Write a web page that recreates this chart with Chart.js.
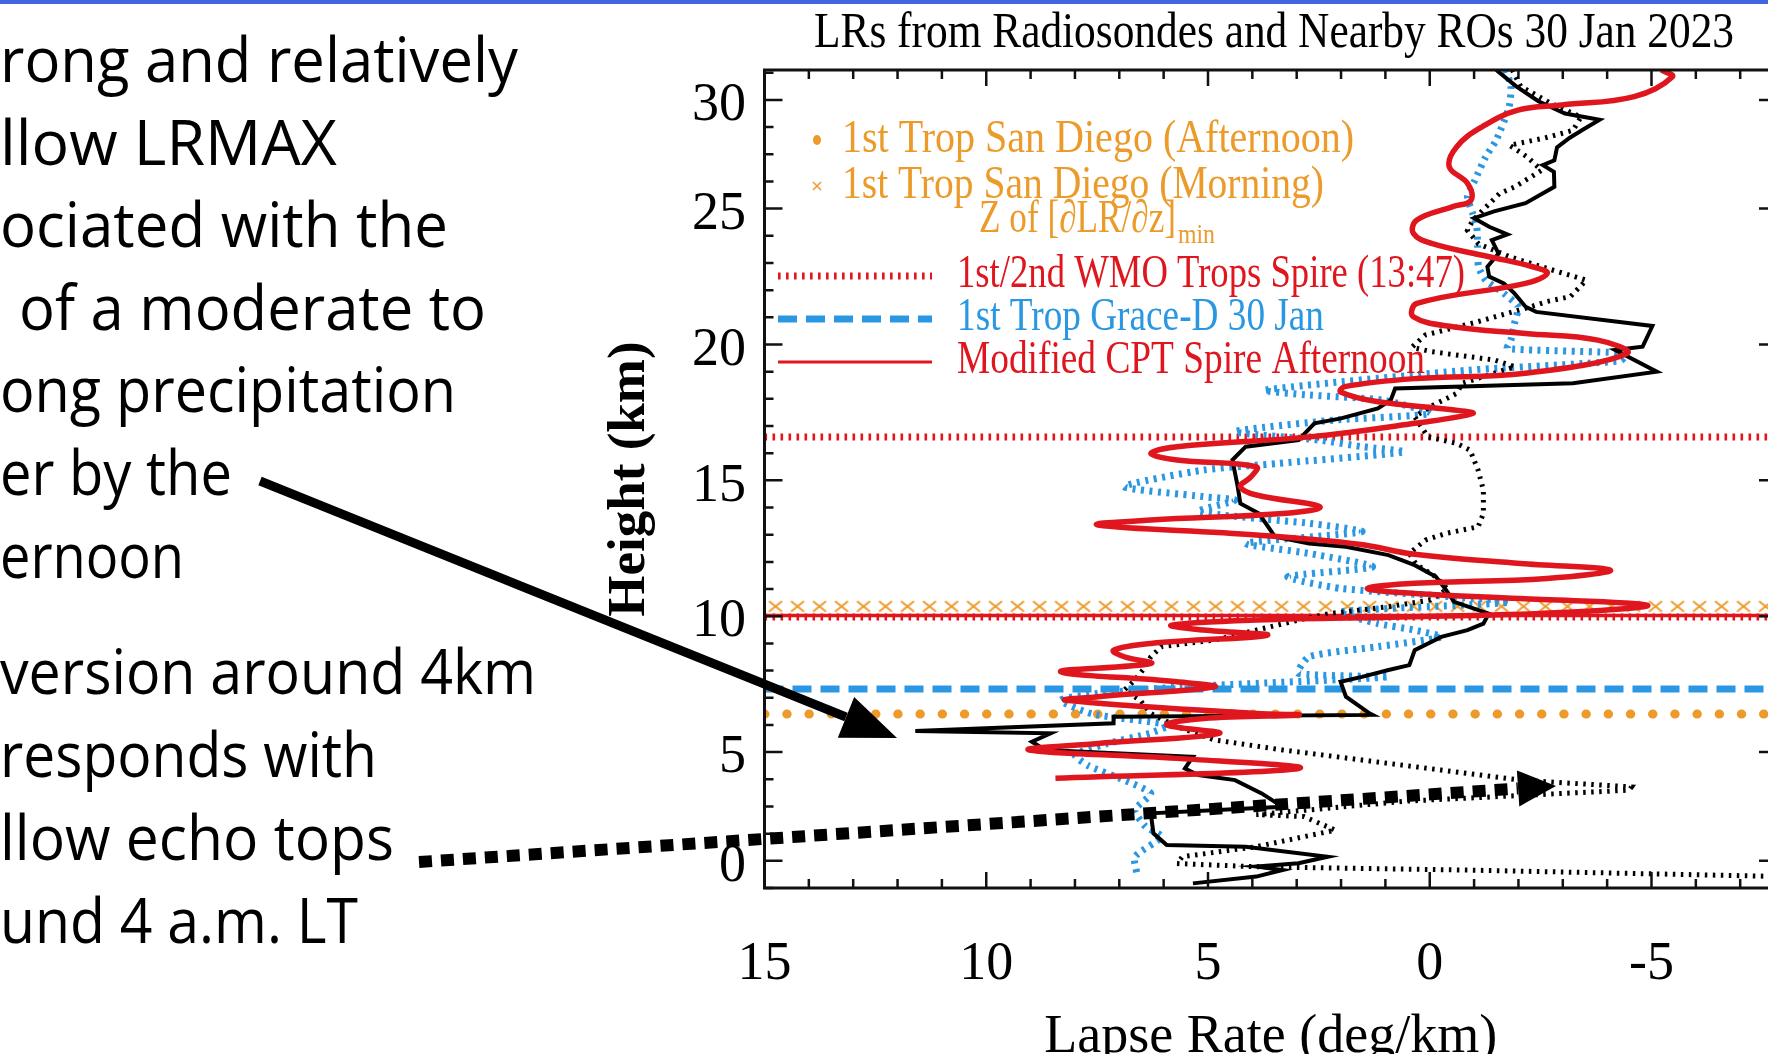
<!DOCTYPE html>
<html>
<head>
<meta charset="utf-8">
<script src="https://cdn.jsdelivr.net/npm/chart.js@4.4.0/dist/chart.umd.min.js"></script>
<style>
html, body { margin: 0; padding: 0; background: #fff; overflow: hidden; width: 1768px; height: 1054px; }
#topbar { position: absolute; left: 0; top: 0; width: 1768px; height: 4px; background: #3f66e0; z-index: 3; }
#lrChart { position: absolute; left: 0; top: 0; }
#notes { position: absolute; left: 0; top: 0; z-index: 2; }
</style>
</head>
<body>
<div id="topbar"></div>
<canvas id="lrChart" width="1800" height="1078"></canvas>
<svg id="notes" width="1768" height="1054" font-family="'Open Sans', 'Liberation Sans', sans-serif" font-size="63" fill="#000">
  <text x="0" y="82" textLength="518" lengthAdjust="spacingAndGlyphs">rong and relatively</text>
  <text x="0" y="165" textLength="337" lengthAdjust="spacingAndGlyphs">llow LRMAX</text>
  <text x="0" y="247" textLength="448" lengthAdjust="spacingAndGlyphs">ociated with the</text>
  <text x="19" y="330" textLength="467" lengthAdjust="spacingAndGlyphs">of a moderate to</text>
  <text x="0" y="412" textLength="456" lengthAdjust="spacingAndGlyphs">ong precipitation</text>
  <text x="0" y="495" textLength="232" lengthAdjust="spacingAndGlyphs">er by the</text>
  <text x="0" y="578" textLength="184" lengthAdjust="spacingAndGlyphs">ernoon</text>
  <text x="0" y="694" textLength="536" lengthAdjust="spacingAndGlyphs">version around 4km</text>
  <text x="0" y="777" textLength="377" lengthAdjust="spacingAndGlyphs">responds with</text>
  <text x="0" y="860" textLength="394" lengthAdjust="spacingAndGlyphs">llow echo tops</text>
  <text x="0" y="943" textLength="358" lengthAdjust="spacingAndGlyphs">und 4 a.m. LT</text>
  <!-- annotation arrows -->
  <line x1="260" y1="481" x2="846" y2="717" stroke="#000" stroke-width="9"/>
  <polygon points="897,738 837.8,737.8 854.2,697" fill="#000"/>
  <line x1="419" y1="862" x2="1518" y2="788.5" stroke="#000" stroke-width="12" stroke-dasharray="13 9"/>
  <polygon points="1556,786 1519.3,806.5 1516.9,770.5" fill="#000"/>
</svg>
<script>
// axis ranges (lapse rate axis runs backwards, 15 on the left)
const lrMin = -7.83, lrMax = 15;
const zMin = 0, zMax = 30.1;
const yLabelAt = [1, 5, 10, 15, 20, 25, 29];
const yLabelText = ['0', '5', '10', '15', '20', '25', '30'];
const chartTitle = 'LRs from Radiosondes and Nearby ROs 30 Jan 2023';

// radiosonde, afternoon (black solid)
const sondePmLR = [-1.5, -1.95, -2.45, -3.05, -3.83, -3.45, -3.15, -2.87, -2.81, -2.55, -2.8, -2.81, -2.16, -1.45, -1.0, -1.34, -1.75, -1.4, -1.55, -1.3, -1.34, -1.67, -1.91, -2.16, -2.4, -5.02, -4.8, -4.18, -5.12, -3.23, 0.78, 0.88, 1.17, 2.0, 2.6, 2.96, 4.15, 4.45, 4.33, 4.27, 3.85, 3.49, 2.72, 1.89, 0.93, 0.34, -0.14, -0.37, -0.55, -1.33, -1.21, -0.85, -0.26, 0.34, 0.46, 0.93, 1.53, 2.01, 1.89, 1.35, 1.29, 7.13, 7.13, 11.6, 8.55, 8.97, 8.67, 5.34, 5.52, 5.22, 4.39, 3.79, 3.32, 6.29, 6.23, 5.93, 4.15, 2.3, 2.96, 3.91, 3.32, 3.91, 5.34];
const sondePmZ = [30.1, 29.5, 28.95, 28.5, 28.27, 27.9, 27.6, 27.25, 26.78, 26.6, 26.35, 25.8, 25.2, 24.9, 24.65, 24.33, 24.05, 23.84, 23.35, 22.86, 22.5, 22.25, 21.88, 21.39, 21.2, 20.68, 19.92, 19.8, 19.0, 18.57, 18.38, 17.95, 17.65, 17.28, 17.1, 16.48, 16.24, 15.75, 14.77, 14.15, 13.78, 12.93, 12.68, 12.56, 12.25, 11.88, 11.45, 10.96, 10.53, 10.1, 9.73, 9.49, 9.24, 8.75, 8.2, 8.02, 7.77, 7.59, 7.04, 6.42, 6.37, 6.3, 6.06, 5.78, 5.69, 5.38, 5.08, 4.83, 4.4, 4.16, 3.97, 3.48, 2.99, 2.75, 2.01, 1.58, 1.52, 1.15, 0.91, 0.79, 0.66, 0.42, 0.17];

// radiosonde, morning (black dotted)
const sondeAmLR = [-1.86, -2.05, -2.7, -3.41, -3.23, -2.6, -1.8, -2.2, -2.52, -1.92, -1.57, -0.97, -0.85, -1.1, -1.8, -2.52, -3.53, -3.17, -2.64, -2.28, -1.0, 0.1, 0.4, -0.02, -1.45, -1.92, -0.73, -0.61, -0.08, 0.34, 0.04, -0.61, -0.91, -1.09, -1.21, -1.21, -1.09, -0.37, 0.1, 0.46, 0.3, -0.14, -0.4, -0.02, 0.93, 2.25, 2.96, 3.91, 4.86, 6.05, 6.29, 6.41, 6.65, 6.89, 6.53, 6.29, 5.7, 4.86, 3.32, 1.53, -0.26, -2.04, -4.55, -4.5, 0.5, 3.91, 2.84, 2.13, 3.91, 5.58, 5.7, 3.91, -0.85, -8];
const sondeAmZ = [30.1, 29.5, 28.9, 28.37, 27.88, 27.6, 27.33, 26.9, 26.41, 25.8, 25.55, 24.57, 24.2, 23.7, 23.23, 22.86, 22.37, 21.76, 21.58, 21.39, 20.8, 20.35, 19.9, 19.74, 19.43, 19.18, 18.57, 18.2, 17.77, 17.34, 16.6, 16.36, 16.11, 15.38, 14.64, 13.78, 13.29, 13.05, 12.8, 12.31, 11.9, 11.45, 11.0, 10.6, 10.35, 10.1, 9.86, 9.49, 9.12, 8.88, 8.51, 8.14, 7.65, 7.28, 6.91, 6.42, 5.94, 5.45, 5.08, 4.71, 4.34, 3.97, 3.72, 3.6, 3.2, 2.7, 2.63, 2.13, 1.52, 1.15, 0.9, 0.78, 0.66, 0.42];

// Grace-D RO (blue dotted)
const graceLR = [-1.71, -1.83, -1.79, -1.5, -1.26, -1.02, -0.85, -0.97, -1.06, -1.08, -1.1, -1.26, -1.67, -1.99, -1.91, -1.83, -1.75, -4.42, -4.3, -0.85, 3.72, 2.72, 1.05, -0.02, 2.13, 4.39, 2.48, 1.53, 0.58, 3.44, 5.1, 6.89, 5.1, 4.39, 5.22, 2.72, 1.53, 4.15, 2.72, 1.29, 3.2, 2.0, -1.8, 2.01, 1.17, 0.34, -0.26, 1.17, 2.72, 2.96, 0.93, 5.58, 7.48, 8.32, 7.6, 5.9, 6.3, 7.3, 8.0, 7.7, 6.89, 6.29, 6.65, 6.41, 6.05, 6.65, 6.6];
const graceZ = [30.1, 29.5, 28.75, 27.52, 26.9, 26.05, 25.44, 24.82, 24.33, 23.6, 22.86, 22.37, 21.88, 21.39, 20.77, 20.16, 19.85, 19.67, 19.4, 19.05, 18.32, 18.14, 17.95, 17.46, 17.22, 16.79, 16.48, 16.24, 16.05, 15.62, 15.38, 14.77, 14.4, 14.27, 13.85, 13.42, 13.11, 12.68, 12.31, 11.82, 11.45, 11.02, 10.53, 10.16, 9.73, 9.49, 9.24, 8.88, 8.51, 7.9, 7.77, 7.4, 7.16, 6.91, 6.4, 6.0, 5.7, 5.3, 4.9, 4.5, 3.97, 3.48, 2.87, 2.26, 1.89, 1.15, 0.5];

// modified CPT, Spire afternoon (red)
const cptLR = [-5.22, -5.47, -4.61, -2.98, -1.99, -1.18, -0.61, -0.44, -0.85, -0.93, -0.52, 0.29, 0.37, -0.04, -1.34, -2.32, -2.65, -2.16, 0.29, 0.37, -0.52, -2.16, -3.79, -4.45, -2.16, 0.29, 1.92, 2.01, 1.2, -0.5, -0.97, 0.34, 2.72, 5.7, 6.29, 5.7, 3.91, 4.03, 4.27, 3.91, 2.48, 3.32, 6.29, 7.48, 3.91, 1.6, 0.34, -2.04, -4.07, -2.64, 0.34, 1.41, 0.34, -2.04, -4.9, -3.23, 0.34, 3.91, 5.82, 5.1, 3.67, 6.29, 7.13, 6.89, 6.29, 8.32, 5.7, 4.86, 7.48, 8.2, 3.91, 2.96, 5.1, 5.93, 4.75, 7.48, 9.03, 5.7, 2.96, 8.44];
const cptZ = [30.1, 29.85, 29.12, 28.81, 28.62, 28.01, 27.28, 26.54, 25.93, 25.31, 25.07, 24.58, 24.09, 23.72, 23.23, 22.86, 22.62, 22.25, 21.51, 21.02, 20.65, 20.4, 20.16, 19.67, 18.94, 18.75, 18.45, 18.25, 17.9, 17.6, 17.46, 17.1, 16.6, 16.24, 15.99, 15.75, 15.5, 15.13, 14.77, 14.46, 14.03, 13.78, 13.54, 13.36, 12.99, 12.65, 12.28, 11.94, 11.7, 11.39, 11.21, 11.02, 10.84, 10.65, 10.41, 10.16, 9.98, 9.86, 9.67, 9.49, 9.3, 9.0, 8.75, 8.51, 8.26, 7.96, 7.59, 7.4, 7.04, 6.91, 6.42, 6.37, 6.24, 6.0, 5.69, 5.32, 5.08, 4.77, 4.4, 4.04];

// tropopause heights (km)
const tropPmZ = 6.40;
const tropAmZ = 10.37;
const wmoTropZ = [9.97, 16.6];
const cptLevelZ = 10.03;
const graceTropZ = 7.32;

const ORANGE = '#ec9b2b';
const RED = '#e0161f';
const BLUE = '#2a97e2';
const SERIF = "'Liberation Serif', 'DejaVu Serif', serif";

function toPoints(lr, z) {
    return lr.map(function (v, i) { return {x: v, y: z[i]}; });
}
function level(z) {
    return [{x: lrMax, y: z}, {x: lrMin, y: z}];
}

// repeating "x" tile for the morning tropopause row
const crossTile = document.createElement('canvas');
crossTile.width = 22;
crossTile.height = 14;
(function () {
    const t = crossTile.getContext('2d');
    t.strokeStyle = ORANGE;
    t.lineWidth = 2;
    t.beginPath();
    t.moveTo(4.5, 2); t.lineTo(17.5, 12.5);
    t.moveTo(17.5, 2); t.lineTo(4.5, 12.5);
    t.stroke();
})();
const ctx = document.getElementById('lrChart').getContext('2d');
const crossPattern = ctx.createPattern(crossTile, 'repeat');

const dsCpt = {label: 'Modified CPT Spire Afternoon', data: toPoints(cptLR, cptZ), showLine: true, borderColor: RED, borderWidth: 5.5, tension: 0.4, order: 0};
const dsSondePm = {label: 'Radiosonde Afternoon', data: toPoints(sondePmLR, sondePmZ), showLine: true, borderColor: '#000', borderWidth: 4, tension: 0, order: 1};
const dsSondeAm = {label: 'Radiosonde Morning', data: toPoints(sondeAmLR, sondeAmZ), showLine: true, borderColor: '#000', borderWidth: 5, borderDash: [2.5, 5.5], tension: 0, order: 2};
const dsGrace = {label: 'Grace-D', data: toPoints(graceLR, graceZ), showLine: true, borderColor: BLUE, borderWidth: 7, borderDash: [3, 5.5], tension: 0.2, order: 3};
const dsTropPm = {label: '1st Trop San Diego (Afternoon)', data: level(tropPmZ), showLine: true, borderColor: ORANGE, borderWidth: 9, borderDash: [0.5, 21.7], borderCapStyle: 'round', order: 6};
const dsTropAm = {label: '1st Trop San Diego (Morning)', data: level(tropAmZ), showLine: true, borderColor: crossPattern, borderWidth: 14, order: 7};
const dsWmo1 = {label: '1st/2nd WMO Trops Spire (13:47)', data: level(wmoTropZ[0]), showLine: true, borderColor: RED, borderWidth: 7, borderDash: [2.6, 5.4], order: 5};
const dsWmo2 = {label: '', data: level(wmoTropZ[1]), showLine: true, borderColor: RED, borderWidth: 7, borderDash: [2.6, 5.4], order: 5};
const dsCptLevel = {label: '', data: level(cptLevelZ), showLine: true, borderColor: RED, borderWidth: 3.5, order: 4};
const dsGraceTrop = {label: '1st Trop Grace-D 30 Jan', data: level(graceTropZ), showLine: true, borderColor: BLUE, borderWidth: 7, borderDash: [19, 9], order: 5};

// squeeze a string to a given width (the figure uses a tall, narrow serif)
function fitText(c, text, x, y, width) {
    const w = c.measureText(text).width;
    c.save();
    c.translate(x, y);
    c.scale(width / w, 1);
    c.fillText(text, 0, 0);
    c.restore();
}

const alignCrosses = {
    id: 'alignCrosses',
    beforeDatasetsDraw(chart) {
        const py = chart.scales.y.getPixelForValue(tropAmZ);
        crossPattern.setTransform(new DOMMatrix([1, 0, 0, 1, chart.chartArea.left, py - 7]));
    }
};

// inward tick marks and the box around the plot
const frameTicks = {
    id: 'frameTicks',
    afterDatasetsDraw(chart) {
        const c = chart.ctx, a = chart.chartArea, sx = chart.scales.x, sy = chart.scales.y;
        c.save();
        c.strokeStyle = '#111';
        c.lineWidth = 2.5;
        c.beginPath();
        sx.ticks.forEach(function (t) {
            const px = sx.getPixelForValue(t.value);
            const len = t.label !== '' ? 16 : 9;
            c.moveTo(px, a.bottom); c.lineTo(px, a.bottom - len);
            c.moveTo(px, a.top); c.lineTo(px, a.top + len);
        });
        sy.ticks.forEach(function (t) {
            const py = sy.getPixelForValue(t.value);
            const len = t.label !== '' ? 18 : 9;
            c.moveTo(a.left, py); c.lineTo(a.left + len, py);
            c.moveTo(a.right, py); c.lineTo(a.right - len, py);
        });
        c.stroke();
        c.lineWidth = 3;
        c.strokeRect(a.left, a.top, a.right - a.left, a.bottom - a.top);
        c.restore();
    }
};

// title and the legend inside the plot, the way the original figure does it
const figLegend = {
    id: 'figLegend',
    afterDatasetsDraw(chart) {
        const c = chart.ctx;
        c.save();
        c.textBaseline = 'alphabetic';

        c.fillStyle = '#000';
        c.font = '51px ' + SERIF;
        fitText(c, chartTitle, 814, 47, 920);

        c.font = '46px ' + SERIF;
        c.fillStyle = ORANGE;
        c.beginPath();
        c.ellipse(817, 140, 4, 5, 0, 0, 2 * Math.PI);
        c.fill();
        fitText(c, dsTropPm.label, 842, 152, 512);

        c.strokeStyle = ORANGE;
        c.lineWidth = 1.5;
        c.beginPath();
        c.moveTo(813, 182); c.lineTo(821, 190);
        c.moveTo(821, 182); c.lineTo(813, 190);
        c.stroke();
        fitText(c, dsTropAm.label, 842, 198, 482);

        fitText(c, 'Z of [\u2202LR/\u2202z]', 979, 232, 197);
        c.font = '27px ' + SERIF;
        fitText(c, 'min', 1178, 243, 37);

        c.font = '46px ' + SERIF;
        const rows = [
            {ds: dsWmo1, y: 276, text: 287, w: 508, color: RED},
            {ds: dsGraceTrop, y: 319, text: 330, w: 367, color: BLUE},
            {ds: dsCpt, y: 362, text: 373, w: 468, color: RED}
        ];
        rows.forEach(function (r) {
            c.strokeStyle = r.ds.borderColor;
            c.lineWidth = r.ds === dsCpt ? 3 : r.ds.borderWidth;
            c.setLineDash(r.ds.borderDash || []);
            c.beginPath();
            c.moveTo(778, r.y); c.lineTo(932, r.y);
            c.stroke();
            c.setLineDash([]);
            c.fillStyle = r.color;
            fitText(c, r.ds.label, 957, r.text, r.w);
        });
        c.restore();
    }
};

const myChart = new Chart(ctx, {
    type: 'scatter',
    data: {
        datasets: [dsCpt, dsSondePm, dsSondeAm, dsGrace, dsCptLevel, dsWmo1, dsWmo2, dsGraceTrop, dsTropPm, dsTropAm]
    },
    plugins: [alignCrosses, frameTicks, figLegend],
    options: {
        responsive: false,
        animation: false,
        devicePixelRatio: 1,
        layout: {
            padding: {left: 560, top: 70, right: 23, bottom: 0}
        },
        elements: {
            point: {radius: 0, hoverRadius: 0}
        },
        plugins: {
            legend: {display: false},
            tooltip: {enabled: false},
            title: {display: false}
        },
        scales: {
            x: {
                type: 'linear',
                position: 'bottom',
                reverse: true,
                min: lrMin,
                max: lrMax,
                grid: {display: false, drawTicks: false},
                border: {display: false},
                ticks: {
                    stepSize: 1,
                    autoSkip: false,
                    maxRotation: 0,
                    includeBounds: false,
                    padding: 44,
                    color: '#000',
                    font: {family: SERIF, size: 54},
                    callback: function (value) {
                        return value % 5 === 0 ? String(value) : '';
                    }
                },
                title: {
                    display: true,
                    text: 'Lapse Rate (deg/km)',
                    color: '#000',
                    font: {family: SERIF, size: 54},
                    padding: {top: 0, bottom: 8}
                },
                afterFit: function (scale) {
                    scale.height = 190;
                }
            },
            y: {
                type: 'linear',
                position: 'left',
                min: zMin,
                max: zMax,
                grid: {display: false, drawTicks: false},
                border: {display: false},
                ticks: {
                    stepSize: 1,
                    autoSkip: false,
                    includeBounds: false,
                    padding: 18.5,
                    labelOffset: 6,
                    color: '#000',
                    font: {family: SERIF, size: 54},
                    callback: function (value) {
                        const i = yLabelAt.indexOf(value);
                        return i < 0 ? '' : yLabelText[i];
                    }
                },
                title: {
                    display: true,
                    text: 'Height (km)',
                    color: '#000',
                    font: {family: SERIF, size: 53, weight: 'bold'},
                    padding: {top: 39, bottom: 0}
                },
                afterFit: function (scale) {
                    scale.width = 204.5;
                }
            }
        }
    }
});
</script>
</body>
</html>
